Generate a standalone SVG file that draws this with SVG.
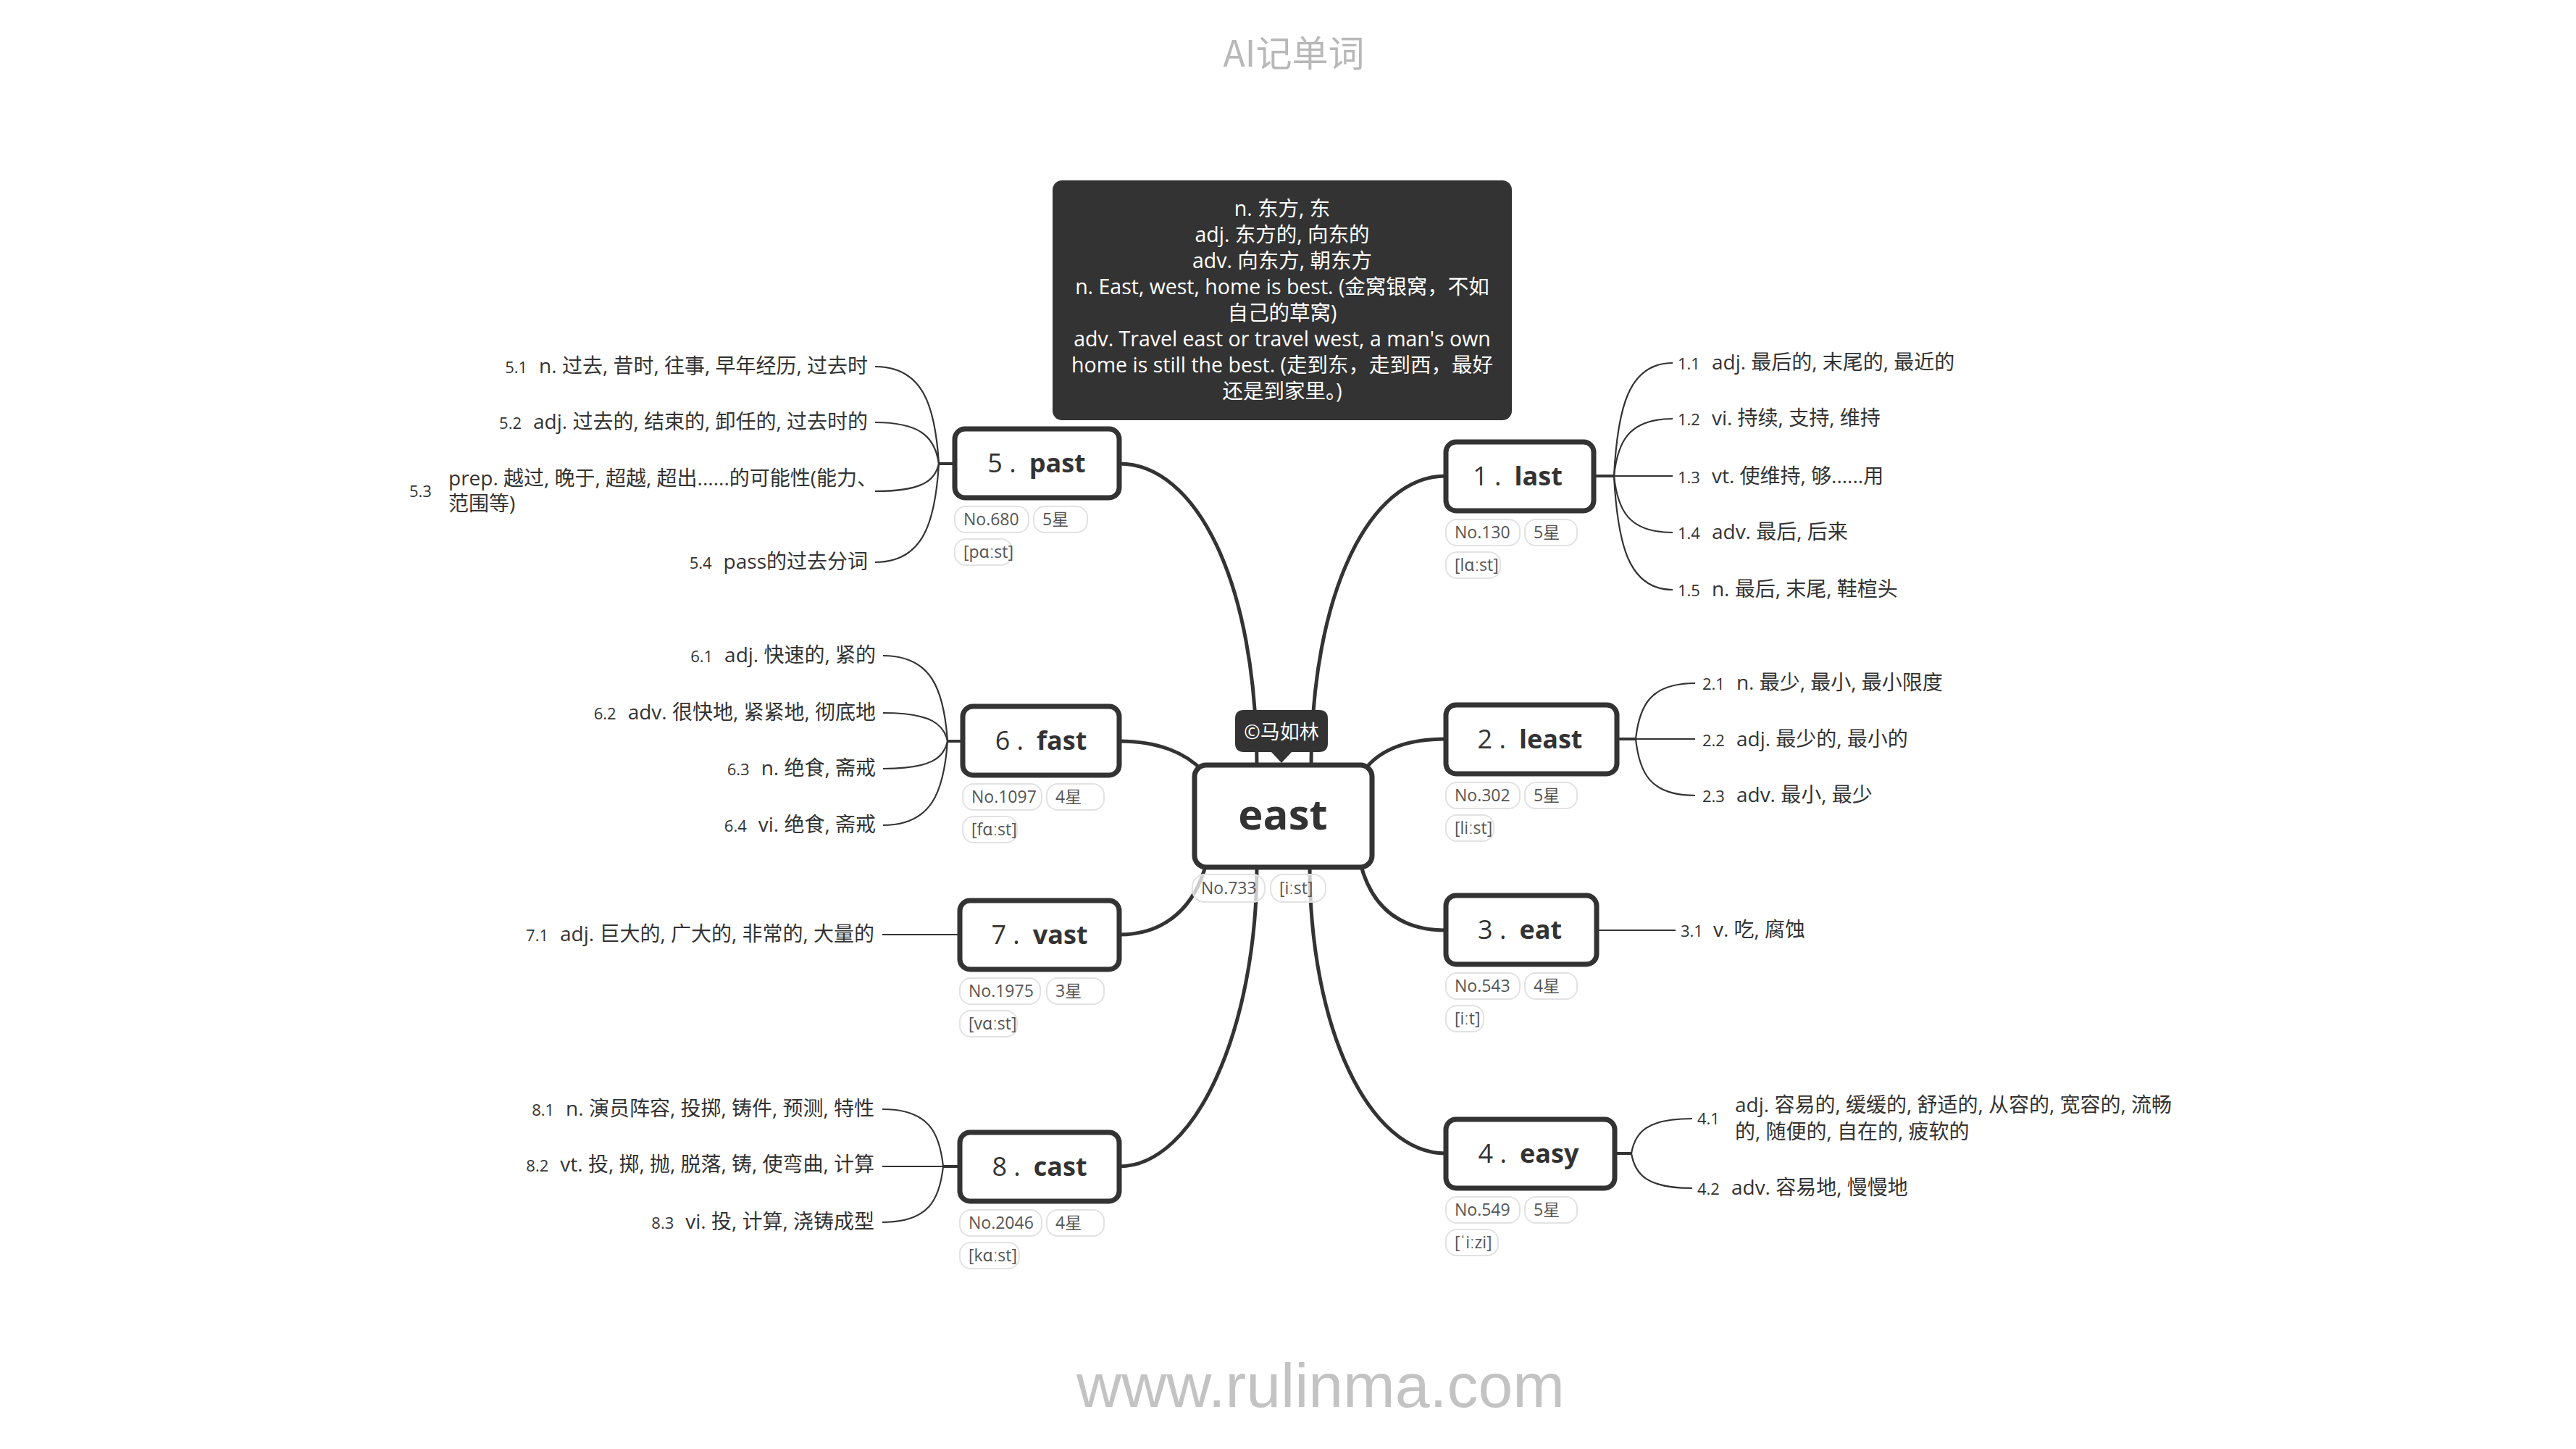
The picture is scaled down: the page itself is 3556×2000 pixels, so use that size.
<svg xmlns="http://www.w3.org/2000/svg" width="3556" height="2000" viewBox="0 0 3556 2000">
<style>
text{font-family:"Open Sans","Noto Sans CJK SC",sans-serif;fill:#333}
.title{font-family:"Noto Sans CJK SC",sans-serif;font-size:50px;fill:#b8b8b8;text-anchor:middle}
.wm{font-family:"Liberation Sans",sans-serif;font-size:86px;fill:#c3c3c3;text-anchor:middle}
.box{fill:#fff;stroke:#333;stroke-width:7}
.nl{font-size:36px;text-anchor:middle}
.nl .n{font-weight:400}
.nl .w{font-weight:700}
.tag{fill:#fff;fill-opacity:0.75;stroke:#e2e2e2;stroke-width:2}
.tt{font-size:23px;fill:#555}
.main{fill:none;stroke:#333;stroke-width:5;stroke-linecap:round}
.stem{fill:none;stroke:#333;stroke-width:4}
.sub{fill:none;stroke:#333;stroke-width:2.2}
.it{font-size:28px}
.it .num{font-size:22px}
.itr{font-size:28px;text-anchor:end}
.itr .num{font-size:22px}
.note{fill:#333}
.nt{font-size:28.5px;fill:#fff;text-anchor:middle}
</style>

<text class="title" x="1786" y="92">AI记单词</text>

<g id="connectors">
  <path class="main" d="M1545,640 C1650,640 1735,800 1735,1060"/>
  <path class="main" d="M1996,657 C1890,657 1810,820 1810,1060"/>
  <path class="main" d="M1545,1610 C1650,1610 1735,1420 1735,1195"/>
  <path class="main" d="M1996,1592 C1890,1592 1808,1420 1808,1195"/>
  <path class="main" d="M1545,1023 C1600,1023 1638,1040 1660,1064"/>
  <path class="main" d="M1996,1020 C1940,1020 1905,1035 1884,1062"/>
  <path class="main" d="M1545,1290 C1610,1290 1650,1250 1665,1192"/>
  <path class="main" d="M1996,1284 C1930,1284 1893,1250 1878,1192"/>
  <path class="stem" d="M2200,657 H2228"/>
  <path class="sub" d="M2228,657 C2233,563 2248,501 2309,501"/>
  <path class="sub" d="M2228,657 C2233,610 2248,578 2309,578"/>
  <path class="sub" d="M2228,657 L2309,657"/>
  <path class="sub" d="M2228,657 C2233,704 2248,735 2309,735"/>
  <path class="sub" d="M2228,657 C2233,751 2248,814 2309,814"/>
  <path class="stem" d="M2232,1020 H2258"/>
  <path class="sub" d="M2258,1020 C2263,974 2278,943 2340,943"/>
  <path class="sub" d="M2258,1020 L2340,1020"/>
  <path class="sub" d="M2258,1020 C2263,1067 2278,1098 2340,1098"/>
  <path class="sub" d="M2204,1284 H2313"/>
  <path class="stem" d="M2229,1592 H2252"/>
  <path class="sub" d="M2252,1592 C2257,1563 2273,1544 2336,1544"/>
  <path class="sub" d="M2252,1592 C2257,1621 2273,1640 2336,1640"/>
  <path class="stem" d="M1318,640 H1296"/>
  <path class="sub" d="M1296,640 C1291,560 1274,506 1208,506"/>
  <path class="sub" d="M1296,640 C1291,606 1274,583 1208,583"/>
  <path class="sub" d="M1296,640 C1291,663 1274,678 1208,678"/>
  <path class="sub" d="M1296,640 C1291,722 1274,776 1208,776"/>
  <path class="stem" d="M1329,1023 H1308"/>
  <path class="sub" d="M1308,1023 C1303,952 1286,905 1219,905"/>
  <path class="sub" d="M1308,1023 C1303,1000 1286,984 1219,984"/>
  <path class="sub" d="M1308,1023 C1303,1046 1286,1061 1219,1061"/>
  <path class="sub" d="M1308,1023 C1303,1093 1286,1139 1219,1139"/>
  <path class="sub" d="M1325,1290 H1218"/>
  <path class="stem" d="M1325,1610 H1302"/>
  <path class="sub" d="M1302,1610 C1297,1563 1282,1531 1218,1531"/>
  <path class="sub" d="M1302,1610 L1218,1610"/>
  <path class="sub" d="M1302,1610 C1297,1656 1282,1687 1218,1687"/>
</g>

<g id="note">
  <rect class="note" x="1453" y="249" width="634" height="331" rx="13"/>
  <text class="nt" x="1770" y="298">n. 东方, 东</text>
  <text class="nt" x="1770" y="334">adj. 东方的, 向东的</text>
  <text class="nt" x="1770" y="370">adv. 向东方, 朝东方</text>
  <text class="nt" x="1770" y="406">n. East, west, home is best. (金窝银窝，不如</text>
  <text class="nt" x="1770" y="442">自己的草窝)</text>
  <text class="nt" x="1770" y="478">adv. Travel east or travel west, a man's own</text>
  <text class="nt" x="1770" y="514">home is still the best. (走到东，走到西，最好</text>
  <text class="nt" x="1770" y="550">还是到家里。)</text>
</g>

<g id="node-east">
  <rect class="box" x="1649" y="1056" width="245" height="141" rx="16"/>
  <text x="1771" y="1145" font-size="58" font-weight="700" text-anchor="middle">east</text>
  <rect class="tag" x="1646" y="1207" width="100" height="38" rx="17"/>
  <text class="tt" x="1658" y="1234">No.733</text>
  <rect class="tag" x="1754" y="1207" width="76" height="38" rx="17"/>
  <text class="tt" x="1766" y="1234">[iːst]</text>
</g>

<g id="copyright">
  <path fill="#333" d="M1717,980 H1821 Q1833,980 1833,992 V1026 Q1833,1038 1821,1038 H1783 L1769,1053 L1755,1038 H1717 Q1705,1038 1705,1026 V992 Q1705,980 1717,980 Z"/>
  <text x="1769" y="1020" font-size="27" text-anchor="middle" style="fill:#fff">©马如林</text>
</g>

<g id="node-1">
  <rect class="box" x="1996" y="610" width="204" height="95" rx="14"/>
  <text class="nl" x="2095" y="670"><tspan class="n">1 .</tspan><tspan class="w" dx="18">last</tspan></text>
  <rect class="tag" x="1996" y="717" width="102" height="36" rx="15"/>
  <text class="tt" x="2008" y="743">No.130</text>
  <rect class="tag" x="2105" y="717" width="72" height="36" rx="15"/>
  <text class="tt" x="2117" y="743">5星</text>
  <rect class="tag" x="1996" y="762" width="75" height="36" rx="15"/>
  <text class="tt" x="2008" y="788">[lɑːst]</text>
  <text class="it" x="2316" y="510"><tspan class="num">1.1</tspan><tspan dx="16">adj. 最后的, 末尾的, 最近的</tspan></text>
  <text class="it" x="2316" y="587"><tspan class="num">1.2</tspan><tspan dx="16">vi. 持续, 支持, 维持</tspan></text>
  <text class="it" x="2316" y="667"><tspan class="num">1.3</tspan><tspan dx="16">vt. 使维持, 够......用</tspan></text>
  <text class="it" x="2316" y="744"><tspan class="num">1.4</tspan><tspan dx="16">adv. 最后, 后来</tspan></text>
  <text class="it" x="2316" y="823"><tspan class="num">1.5</tspan><tspan dx="16">n. 最后, 末尾, 鞋楦头</tspan></text>
</g>

<g id="node-2">
  <rect class="box" x="1996" y="973" width="236" height="95" rx="14"/>
  <text class="nl" x="2112" y="1033"><tspan class="n">2 .</tspan><tspan class="w" dx="18">least</tspan></text>
  <rect class="tag" x="1996" y="1080" width="102" height="36" rx="15"/>
  <text class="tt" x="2008" y="1106">No.302</text>
  <rect class="tag" x="2105" y="1080" width="72" height="36" rx="15"/>
  <text class="tt" x="2117" y="1106">5星</text>
  <rect class="tag" x="1996" y="1125" width="66" height="36" rx="15"/>
  <text class="tt" x="2008" y="1151">[liːst]</text>
  <text class="it" x="2350" y="952"><tspan class="num">2.1</tspan><tspan dx="16">n. 最少, 最小, 最小限度</tspan></text>
  <text class="it" x="2350" y="1030"><tspan class="num">2.2</tspan><tspan dx="16">adj. 最少的, 最小的</tspan></text>
  <text class="it" x="2350" y="1107"><tspan class="num">2.3</tspan><tspan dx="16">adv. 最小, 最少</tspan></text>
</g>

<g id="node-3">
  <rect class="box" x="1996" y="1236" width="208" height="95" rx="14"/>
  <text class="nl" x="2098" y="1296"><tspan class="n">3 .</tspan><tspan class="w" dx="18">eat</tspan></text>
  <rect class="tag" x="1996" y="1343" width="102" height="36" rx="15"/>
  <text class="tt" x="2008" y="1369">No.543</text>
  <rect class="tag" x="2105" y="1343" width="72" height="36" rx="15"/>
  <text class="tt" x="2117" y="1369">4星</text>
  <rect class="tag" x="1996" y="1388" width="52" height="36" rx="15"/>
  <text class="tt" x="2008" y="1414">[iːt]</text>
  <text class="it" x="2320" y="1293"><tspan class="num">3.1</tspan><tspan dx="14">v. 吃, 腐蚀</tspan></text>
</g>

<g id="node-4">
  <rect class="box" x="1996" y="1545" width="233" height="95" rx="14"/>
  <text class="nl" x="2110" y="1605"><tspan class="n">4 .</tspan><tspan class="w" dx="18">easy</tspan></text>
  <rect class="tag" x="1996" y="1652" width="102" height="36" rx="15"/>
  <text class="tt" x="2008" y="1678">No.549</text>
  <rect class="tag" x="2105" y="1652" width="72" height="36" rx="15"/>
  <text class="tt" x="2117" y="1678">5星</text>
  <rect class="tag" x="1996" y="1697" width="72" height="36" rx="15"/>
  <text class="tt" x="2008" y="1723">[ˈiːzi]</text>
  <text class="it" x="2343" y="1552"><tspan class="num">4.1</tspan></text>
  <text class="it" x="2395" y="1535">adj. 容易的, 缓缓的, 舒适的, 从容的, 宽容的, 流畅</text>
  <text class="it" x="2395" y="1572">的, 随便的, 自在的, 疲软的</text>
  <text class="it" x="2343" y="1649"><tspan class="num">4.2</tspan><tspan dx="16">adv. 容易地, 慢慢地</tspan></text>
</g>

<g id="node-5">
  <rect class="box" x="1318" y="592" width="227" height="95" rx="14"/>
  <text class="nl" x="1431" y="652"><tspan class="n">5 .</tspan><tspan class="w" dx="18">past</tspan></text>
  <rect class="tag" x="1318" y="699" width="102" height="36" rx="15"/>
  <text class="tt" x="1330" y="725">No.680</text>
  <rect class="tag" x="1427" y="699" width="74" height="36" rx="15"/>
  <text class="tt" x="1439" y="725">5星</text>
  <rect class="tag" x="1318" y="744" width="79" height="36" rx="15"/>
  <text class="tt" x="1330" y="770">[pɑːst]</text>
  <text class="itr" x="1198" y="515"><tspan class="num">5.1</tspan><tspan dx="16">n. 过去, 昔时, 往事, 早年经历, 过去时</tspan></text>
  <text class="itr" x="1198" y="592"><tspan class="num">5.2</tspan><tspan dx="16">adj. 过去的, 结束的, 卸任的, 过去时的</tspan></text>
  <text class="it" x="565" y="686"><tspan class="num">5.3</tspan></text>
  <text class="it" x="619" y="670">prep. 越过, 晚于, 超越, 超出......的可能性(能力、</text>
  <text class="it" x="619" y="705">范围等)</text>
  <text class="itr" x="1198" y="785"><tspan class="num">5.4</tspan><tspan dx="16">pass的过去分词</tspan></text>
</g>

<g id="node-6">
  <rect class="box" x="1329" y="975" width="216" height="95" rx="14"/>
  <text class="nl" x="1437" y="1035"><tspan class="n">6 .</tspan><tspan class="w" dx="18">fast</tspan></text>
  <rect class="tag" x="1329" y="1082" width="109" height="36" rx="15"/>
  <text class="tt" x="1341" y="1108">No.1097</text>
  <rect class="tag" x="1445" y="1082" width="79" height="36" rx="15"/>
  <text class="tt" x="1457" y="1108">4星</text>
  <rect class="tag" x="1329" y="1127" width="75" height="36" rx="15"/>
  <text class="tt" x="1341" y="1153">[fɑːst]</text>
  <text class="itr" x="1209" y="914"><tspan class="num">6.1</tspan><tspan dx="16">adj. 快速的, 紧的</tspan></text>
  <text class="itr" x="1209" y="993"><tspan class="num">6.2</tspan><tspan dx="16">adv. 很快地, 紧紧地, 彻底地</tspan></text>
  <text class="itr" x="1209" y="1070"><tspan class="num">6.3</tspan><tspan dx="16">n. 绝食, 斋戒</tspan></text>
  <text class="itr" x="1209" y="1148"><tspan class="num">6.4</tspan><tspan dx="16">vi. 绝食, 斋戒</tspan></text>
</g>

<g id="node-7">
  <rect class="box" x="1325" y="1243" width="220" height="95" rx="14"/>
  <text class="nl" x="1435" y="1303"><tspan class="n">7 .</tspan><tspan class="w" dx="18">vast</tspan></text>
  <rect class="tag" x="1325" y="1350" width="111" height="36" rx="15"/>
  <text class="tt" x="1337" y="1376">No.1975</text>
  <rect class="tag" x="1445" y="1350" width="79" height="36" rx="15"/>
  <text class="tt" x="1457" y="1376">3星</text>
  <rect class="tag" x="1325" y="1395" width="79" height="36" rx="15"/>
  <text class="tt" x="1337" y="1421">[vɑːst]</text>
  <text class="itr" x="1207" y="1299"><tspan class="num">7.1</tspan><tspan dx="16">adj. 巨大的, 广大的, 非常的, 大量的</tspan></text>
</g>

<g id="node-8">
  <rect class="box" x="1325" y="1563" width="220" height="95" rx="14"/>
  <text class="nl" x="1435" y="1623"><tspan class="n">8 .</tspan><tspan class="w" dx="18">cast</tspan></text>
  <rect class="tag" x="1325" y="1670" width="113" height="36" rx="15"/>
  <text class="tt" x="1337" y="1696">No.2046</text>
  <rect class="tag" x="1445" y="1670" width="79" height="36" rx="15"/>
  <text class="tt" x="1457" y="1696">4星</text>
  <rect class="tag" x="1325" y="1715" width="82" height="36" rx="15"/>
  <text class="tt" x="1337" y="1741">[kɑːst]</text>
  <text class="itr" x="1207" y="1540"><tspan class="num">8.1</tspan><tspan dx="16">n. 演员阵容, 投掷, 铸件, 预测, 特性</tspan></text>
  <text class="itr" x="1207" y="1617"><tspan class="num">8.2</tspan><tspan dx="16">vt. 投, 掷, 抛, 脱落, 铸, 使弯曲, 计算</tspan></text>
  <text class="itr" x="1207" y="1696"><tspan class="num">8.3</tspan><tspan dx="16">vi. 投, 计算, 浇铸成型</tspan></text>
</g>

<text class="wm" x="1823" y="1942">www.rulinma.com</text>
</svg>
